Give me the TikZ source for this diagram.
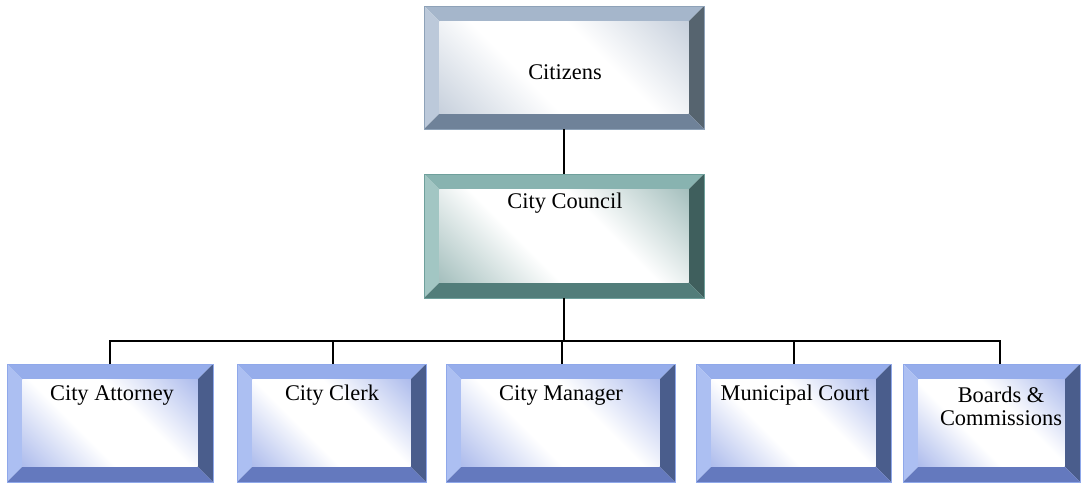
\documentclass[tikz,border=0pt]{standalone}
\usepackage{fontspec}
\setmainfont{Liberation Serif}
\usetikzlibrary{calc}
% slate (Citizens)
\definecolor{slaT}{HTML}{A5B6CB}\definecolor{slaL}{HTML}{BCC9DA}
\definecolor{slaR}{HTML}{56646F}\definecolor{slaB}{HTML}{6F8299}
\definecolor{slaLn}{HTML}{8EA2B8}\definecolor{slaI}{HTML}{A3B2C6}
% teal (City Council)
\definecolor{teaT}{HTML}{88B3B0}\definecolor{teaL}{HTML}{A2C6C3}
\definecolor{teaR}{HTML}{3F5F5D}\definecolor{teaB}{HTML}{527D7A}
\definecolor{teaLn}{HTML}{6FA09C}\definecolor{teaI}{HTML}{6A9693}
% periwinkle (bottom row)
\definecolor{perT}{HTML}{96ADEB}\definecolor{perL}{HTML}{ACBFF2}
\definecolor{perR}{HTML}{4A5D8C}\definecolor{perB}{HTML}{6479BE}
\definecolor{perLn}{HTML}{8FA8EA}\definecolor{perI}{HTML}{7890E0}
\colorlet{slaM}{slaI!62!white}\colorlet{teaM}{teaI!62!white}\colorlet{perM}{perI!62!white}
\pgfdeclareverticalshading{slash}{100bp}{color(0bp)=(slaI); color(14bp)=(slaM); color(40bp)=(white); color(60bp)=(white); color(86bp)=(slaM); color(100bp)=(slaI)}
\pgfdeclareverticalshading{teash}{100bp}{color(0bp)=(teaI); color(14bp)=(teaM); color(40bp)=(white); color(60bp)=(white); color(86bp)=(teaM); color(100bp)=(teaI)}
\pgfdeclareverticalshading{persh}{100bp}{color(0bp)=(perI); color(14bp)=(perM); color(40bp)=(white); color(60bp)=(white); color(86bp)=(perM); color(100bp)=(perI)}
\newcommand{\bv}{11.5pt}
\tikzset{
  bevbox/.style={rectangle, inner sep=0pt, outer sep=0pt, draw=#1Ln, line width=0.6pt,
    path picture={
      \coordinate (oSW) at (path picture bounding box.south west);
      \coordinate (oNE) at (path picture bounding box.north east);
      \coordinate (oNW) at (path picture bounding box.north west);
      \coordinate (oSE) at (path picture bounding box.south east);
      \coordinate (iSW) at ($(oSW)+(\bv,\bv)$);
      \coordinate (iNE) at ($(oNE)+(-\bv,-\bv)$);
      \coordinate (iNW) at ($(oNW)+(\bv,-\bv)$);
      \coordinate (iSE) at ($(oSE)+(-\bv,\bv)$);
      \fill[#1T] (oNW) -- (oNE) -- (iNE) -- (iNW) -- cycle;
      \fill[#1L] (oNW) -- (iNW) -- (iSW) -- (oSW) -- cycle;
      \fill[#1R] (oNE) -- (oSE) -- (iSE) -- (iNE) -- cycle;
      \fill[#1B] (oSW) -- (iSW) -- (iSE) -- (oSE) -- cycle;
      \shade[shading=#1sh, shading angle=-45] (iSW) rectangle (iNE);
    }},
  lbl/.style={inner sep=0pt, font=\fontsize{16.8}{17.3}\selectfont, align=center, text=black},
  conn/.style={line width=1.5pt, black}
}
\begin{document}
\begin{tikzpicture}[x=0.75pt,y=-0.75pt]
\useasboundingbox (0,0) rectangle (1081,483);
% boxes
\node[bevbox=sla, minimum width=210pt, minimum height=92.25pt] (cit) at (564,67.5) {};
\node[bevbox=tea, minimum width=210pt, minimum height=93pt] (cou) at (564,236) {};
\node[bevbox=per, minimum width=154.5pt, minimum height=88.5pt] (att) at (110,423) {};
\node[bevbox=per, minimum width=141.75pt, minimum height=88.5pt] (clk) at (331.5,423) {};
\node[bevbox=per, minimum width=171.75pt, minimum height=88.5pt] (mgr) at (560.5,423) {};
\node[bevbox=per, minimum width=146.25pt, minimum height=88.5pt] (mun) at (793.5,423) {};
\node[bevbox=per, minimum width=132.75pt, minimum height=88.5pt] (brd) at (991.5,423) {};
% labels
\node[lbl] (tcit) at (565,72) {Citizens};
\node[lbl] (tcou) at (565,203) {City Council};
\node[lbl] (tatt) at (112,395) {City Attorney};
\node[lbl] (tclk) at (332,395) {City Clerk};
\node[lbl] (tmgr) at (561,395) {City Manager};
\node[lbl] (tmun) at (795,395) {Municipal Court};
\node[lbl] (tbrd) at (1001,406.5) {Boards \&\\Commissions};
% connectors
\coordinate (bus) at (564,341);
\coordinate (brdTop) at ([xshift=6.4pt]brd.north);
\coordinate (clkTop) at ([xshift=1.1pt]clk.north);
\coordinate (mgrTop) at ([xshift=1.1pt]mgr.north);
\draw[conn] (cit.south) -- (cou.north);
\draw[conn] (cou.south) -- (bus);
\draw[conn] (att.north) |- (bus) -| (brdTop);
\draw[conn] (clkTop) -- (clkTop |- bus);
\draw[conn] (mgrTop) -- (mgrTop |- bus);
\draw[conn] (mun.north) -- (mun.north |- bus);
\end{tikzpicture}
\end{document}
